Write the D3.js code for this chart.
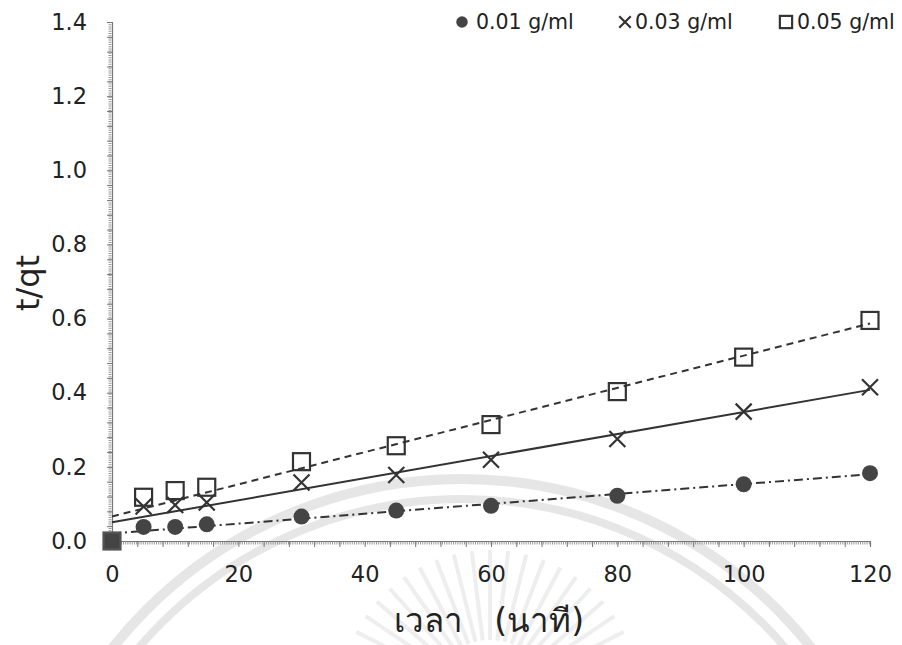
<!DOCTYPE html>
<html>
<head>
<meta charset="utf-8">
<script src="https://cdn.jsdelivr.net/npm/d3@7"></script>
<style>
  html, body { margin: 0; padding: 0; background: #fff; }
  svg { display: block; font-family: "DejaVu Sans", Verdana, sans-serif; }
</style>
</head>
<body>
<svg id="chart" width="902" height="645"></svg>
<script>
// ---- data ----
const times = [0, 5, 10, 15, 30, 45, 60, 80, 100, 120];
const conc001 = [0, 0.038, 0.038, 0.045, 0.066, 0.082, 0.095, 0.122, 0.153, 0.183];
const conc003 = [0, 0.093, 0.097, 0.104, 0.158, 0.178, 0.219, 0.275, 0.349, 0.415];
const conc005 = [0, 0.118, 0.136, 0.145, 0.214, 0.257, 0.314, 0.403, 0.496, 0.595];
const seriesNames = ["0.01 g/ml", "0.03 g/ml", "0.05 g/ml"];
const yTicks = [0, 0.2, 0.4, 0.6, 0.8, 1.0, 1.2, 1.4];
const xTicks = [0, 20, 40, 60, 80, 100, 120];
const xTitle = "เวลา   (นาที)";
const yTitle = "t/qt";

const svg = d3.select("#chart");
const x = d3.scaleLinear().domain([0, 120]).range([112, 870]);
const y = d3.scaleLinear().domain([0, 1.4]).range([541, 22]);
const ink = "#333";

// ---- faint watermark (decorative) ----
const wm = svg.append("g").attr("fill", "none").attr("stroke", "#e6e6e6");
wm.append("circle").attr("cx", 462).attr("cy", 925).attr("r", 446).attr("stroke-width", 10);
wm.append("circle").attr("cx", 462).attr("cy", 925).attr("r", 426).attr("stroke-width", 8);
const rays = d3.range(-70, 71, 7);
wm.selectAll("line.ray").data(rays).join("line")
  .attr("x1", a => 490 + 60 * Math.sin(a * Math.PI / 180))
  .attr("y1", a => 700 - 60 * Math.cos(a * Math.PI / 180))
  .attr("x2", a => 490 + 150 * Math.sin(a * Math.PI / 180))
  .attr("y2", a => 700 - 150 * Math.cos(a * Math.PI / 180))
  .attr("stroke-width", 4).attr("stroke", "#eeeeee");

// ---- axes ----
const minorY = d3.range(0, 1.4001, 0.04);
const minorX = d3.range(0, 120.001, 4);

// fine ruler hatching
svg.append("line").attr("x1", 110).attr("x2", 110).attr("y1", y(1.4)).attr("y2", y(0))
  .attr("stroke", "#999").attr("stroke-width", 3).attr("stroke-dasharray", "1,1.2");
svg.append("line").attr("x1", x(0)).attr("x2", x(120)).attr("y1", 543).attr("y2", 543)
  .attr("stroke", "#999").attr("stroke-width", 3).attr("stroke-dasharray", "1,1.2");

const yAxisMinor = svg.append("g").attr("transform", "translate(112,0)")
  .call(d3.axisLeft(y).tickValues(minorY).tickSize(5).tickFormat(""));
yAxisMinor.selectAll("line").attr("stroke", "#777");
yAxisMinor.select(".domain").attr("stroke", "#777").attr("stroke-width", 1.2);

const yAxis = svg.append("g").attr("transform", "translate(112,0)")
  .call(d3.axisLeft(y).tickValues(yTicks).tickSize(0).tickPadding(25).tickFormat(d3.format(".1f")));
yAxis.select(".domain").remove();
yAxis.selectAll("text").attr("font-size", 22.5).attr("fill", "#222")
  .attr("font-family", "'DejaVu Sans', Verdana, sans-serif");

const xAxisMinor = svg.append("g").attr("transform", "translate(0,541)")
  .call(d3.axisBottom(x).tickValues(minorX).tickSize(6).tickFormat(""));
xAxisMinor.selectAll("line").attr("stroke", "#777");
xAxisMinor.select(".domain").attr("stroke", "#777").attr("stroke-width", 1.2);

const xAxis = svg.append("g").attr("transform", "translate(0,541)")
  .call(d3.axisBottom(x).tickValues(xTicks).tickSize(0).tickPadding(25).tickFormat(d3.format("d")));
xAxis.select(".domain").remove();
xAxis.selectAll("text").attr("font-size", 22.5).attr("fill", "#222")
  .attr("font-family", "'DejaVu Sans', Verdana, sans-serif");

// ---- titles ----
svg.append("text").attr("transform", "translate(39,283) rotate(-90)")
  .attr("text-anchor", "middle").attr("font-size", 32).attr("fill", "#222").text(yTitle);
svg.append("text").attr("x", 489).attr("y", 632)
  .attr("text-anchor", "middle").attr("font-size", 33).attr("fill", "#222")
  .style("white-space", "pre").attr("xml:space", "preserve").text(xTitle);

// ---- trendlines (least squares, computed from data) ----
function fit(xs, ys) {
  const n = xs.length, mx = d3.mean(xs), my = d3.mean(ys);
  let sxy = 0, sxx = 0;
  for (let i = 0; i < n; i++) { sxy += (xs[i] - mx) * (ys[i] - my); sxx += (xs[i] - mx) ** 2; }
  const b = sxy / sxx; return { a: my - b * mx, b };
}
const series = [
  { name: seriesNames[0], vals: conc001, dash: "9,4,2,4", shape: "circle" },
  { name: seriesNames[1], vals: conc003, dash: null, shape: "cross" },
  { name: seriesNames[2], vals: conc005, dash: "7,5", shape: "square" }
];
series.forEach(s => {
  const f = fit(times, s.vals);
  const ends = [0, 120];
  svg.append("path")
    .datum(ends.map(t => [t, f.a + f.b * t]))
    .attr("d", d3.line().x(d => x(d[0])).y(d => y(d[1])))
    .attr("fill", "none").attr("stroke", ink).attr("stroke-width", 2)
    .attr("stroke-dasharray", s.dash);
});

// ---- markers ----
function drawMarker(g, shape, cx, cy, scale, origin) {
  if (shape === "circle") {
    g.append("circle").attr("cx", cx).attr("cy", cy).attr("r", 8 * scale).attr("fill", "#444");
  } else if (shape === "cross") {
    const h = 8 * scale;
    g.append("path").attr("d", `M${cx - h},${cy - h}L${cx + h},${cy + h}M${cx - h},${cy + h}L${cx + h},${cy - h}`)
      .attr("stroke", ink).attr("stroke-width", 2.2).attr("fill", "none");
  } else {
    const h = 8.5 * scale;
    g.append("rect").attr("x", cx - h).attr("y", cy - h).attr("width", 2 * h).attr("height", 2 * h)
      .attr("fill", origin ? "#444" : "none").attr("stroke", origin ? "#555" : ink).attr("stroke-width", 2.2);
  }
}
const mg = svg.append("g");
series.forEach(s => {
  times.forEach((t, i) => drawMarker(mg, s.shape, x(t), y(s.vals[i]), 1, t === 0));
});

// ---- legend ----
const legendPos = [{ mx: 462, tx: 476 }, { mx: 625, tx: 635 }, { mx: 786, tx: 797 }];
series.forEach((s, i) => {
  drawMarker(svg, s.shape, legendPos[i].mx, 22, 0.72, false);
  svg.append("text").attr("x", legendPos[i].tx).attr("y", 29)
    .attr("font-size", 20.5).attr("fill", "#222").text(s.name);
});
</script>
</body>
</html>
